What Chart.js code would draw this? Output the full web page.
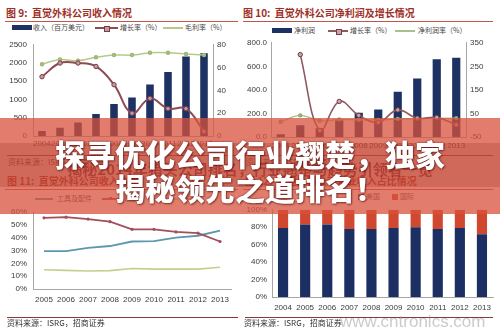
<!DOCTYPE html>
<html>
<head>
<meta charset="utf-8">
<script src="https://cdn.jsdelivr.net/npm/chart.js@4.4.1/dist/chart.umd.min.js"></script>
<style>
html,body{margin:0;padding:0;background:#fff;}
#page{position:relative;width:500px;height:333px;overflow:hidden;background:#fff;}
canvas{position:absolute;}
.t{position:absolute;white-space:nowrap;line-height:1;}
.title{font-family:"Noto Sans CJK SC";font-weight:700;font-size:10px;color:#9e2f27;}
.rule{position:absolute;height:1px;background:#c0554a;}
.rule2{position:absolute;height:1px;background:#8a3a33;}
.lg{font-family:"Noto Sans CJK SC";font-size:7px;color:#444;}
.src{font-family:"Noto Sans CJK SC";font-size:8px;color:#333;}
.sw{position:absolute;}
.band{position:absolute;left:0;width:500px;}
.big{position:absolute;left:0;width:500px;text-align:center;font-family:"Noto Sans CJK SC";font-weight:900;font-size:30px;color:#fff;line-height:1;text-shadow:0 0 2px rgba(70,0,0,.75),1px 1px 2px rgba(70,0,0,.5);}
.sub{position:absolute;left:0;width:500px;text-align:center;font-family:"Noto Sans CJK SC";font-weight:700;font-size:15px;color:rgba(150,30,22,.55);line-height:1;}
.wm{position:absolute;font-family:"Liberation Sans",Arial,sans-serif;font-size:17px;color:rgba(160,160,160,.55);line-height:1;}
</style>
</head>
<body>
<div id="page">
  <!-- panel titles -->
  <div class="t title" style="left:6px;top:8px;">图 9:&nbsp; 直觉外科公司收入情况</div>
  <div class="rule" style="left:5px;top:21px;width:233px;"></div>
  <div class="t title" style="left:243px;top:8px;">图 10:&nbsp; 直觉外科公司净利润及增长情况</div>
  <div class="rule" style="left:243px;top:21px;width:250px;"></div>

  <!-- legend, revenue panel -->
  <div class="sw" style="left:12px;top:25px;width:20px;height:5px;background:#1d3262;"></div>
  <div class="t lg" style="left:33px;top:24px;">收入（百万美元）</div>
  <div class="sw" style="left:95px;top:27px;width:23px;height:1.5px;background:#8e4a55;"></div>
  <div class="sw" style="left:104px;top:25.5px;width:4px;height:4px;background:#c49aa0;border:0.5px solid #7d3b45;"></div>
  <div class="t lg" style="left:120px;top:24px;">增长率（%）</div>
  <div class="sw" style="left:163px;top:27px;width:20px;height:1.5px;background:#b6c98d;"></div>
  <div class="t lg" style="left:185px;top:24px;">毛利率（%）</div>

  <!-- legend, net income panel -->
  <div class="sw" style="left:272px;top:28px;width:20px;height:5px;background:#1d3262;"></div>
  <div class="t lg" style="left:294px;top:27px;">净利润</div>
  <div class="sw" style="left:328px;top:30px;width:20px;height:1.5px;background:#8d5a62;"></div>
  <div class="sw" style="left:336px;top:28.5px;width:4px;height:4px;background:#c9a3a8;border:0.5px solid #7d3b45;"></div>
  <div class="t lg" style="left:350px;top:27px;">增长率（%）</div>
  <div class="sw" style="left:395px;top:30px;width:20px;height:1.5px;background:#a8c08c;"></div>
  <div class="t lg" style="left:418px;top:27px;">净利润率（%）</div>

  <canvas id="c1" width="245" height="118" style="left:0;top:34px;"></canvas>
  <canvas id="c2" width="250" height="118" style="left:245px;top:34px;"></canvas>

  <!-- source lines of the upper panels -->
  <div class="rule2" style="left:7px;top:155px;width:231px;"></div>
  <div class="t src" style="left:8px;top:158px;">资料来源：ISRG，招商证券</div>
  <div class="rule2" style="left:245px;top:155px;width:248px;"></div>
  <div class="t src" style="left:246px;top:158px;">资料来源：ISRG，招商证券</div>

  <!-- lower panel titles and legends -->
  <div class="t title" style="left:7px;top:176px;">图 11:&nbsp; 直觉外科公司收入构成</div>
  <div class="rule" style="left:5px;top:189px;width:233px;"></div>
  <div class="t title" style="left:245px;top:176px;">图 12:&nbsp; 直觉外科公司营业收入占比情况</div>
  <div class="rule" style="left:243px;top:189px;width:250px;"></div>

  <div class="sw" style="left:35px;top:198px;width:18px;height:1.5px;background:#5c97ad;"></div>
  <div class="t lg" style="left:57px;top:195px;">工具及配件</div>
  <div class="sw" style="left:102px;top:198px;width:18px;height:1.5px;background:#a34e5c;"></div>
  <div class="sw" style="left:109px;top:196.5px;width:3px;height:3px;background:#a34e5c;"></div>
  <div class="t lg" style="left:124px;top:195px;">系统</div>
  <div class="sw" style="left:160px;top:198px;width:18px;height:1.5px;background:#c2d08e;"></div>
  <div class="t lg" style="left:182px;top:195px;">服务</div>

  <div class="sw" style="left:358px;top:194px;width:6px;height:6px;background:#1b2f63;"></div>
  <div class="t lg" style="left:366px;top:193px;">美国</div>
  <div class="sw" style="left:392px;top:194px;width:6px;height:6px;background:#d04830;"></div>
  <div class="t lg" style="left:400px;top:193px;">国际</div>

  <canvas id="c3" width="245" height="112" style="left:0;top:200px;"></canvas>
  <canvas id="c4" width="255" height="115" style="left:245px;top:200px;"></canvas>

  <!-- source lines of the lower panels -->
  <div class="rule2" style="left:7px;top:317px;width:231px;"></div>
  <div class="t src" style="left:7px;top:319px;">资料来源：ISRG，招商证券</div>
  <div class="rule2" style="left:245px;top:317px;width:248px;"></div>
  <div class="t src" style="left:244px;top:319px;">资料来源：ISRG，招商证券</div>
  <div class="wm" style="left:340px;top:313px;">www.cntronics.com</div>

  <!-- headline band -->
  <div class="band" style="top:118px;height:96px;background:rgba(216,82,60,.75);"></div>
  <div class="band" style="top:143px;height:44px;background:rgba(150,35,25,.22);"></div>
  <div class="sub" style="top:161px;">揭秘2014年猎头公司排名，行业翘楚与趋势引领者一览</div>
  <div class="big" style="top:138px;">探寻优化公司行业翘楚，独家</div>
  <div class="big" style="top:172px;">揭秘领先之道排名！</div>
</div>

<script>
// Intuitive Surgical: revenue, margins and mix
const years = ['2004','2005','2006','2007','2008','2009','2010','2011','2012','2013'];
const revenue = [139, 227, 373, 601, 875, 1052, 1413, 1757, 2179, 2265];          // 百万美元
const revenueGrowth = [52, 64, 64, 61, 45, 20, 33, 24, 24, 4];                     // %
const grossMargin = [63, 67, 66, 69, 71, 71, 73, 73, 72, 71];                      // %

const netIncome = [24, 100, 75, 143, 205, 233, 385, 497, 660, 672];
const netIncomeGrowth = [null, 300, -22, 101, 42, 12, 65, 30, 33, 2];
const netMargin = [15, 42, 19, 24, 23, 22, 27, 28, 30, 30];

const mixYears = ['2005','2006','2007','2008','2009','2010','2011','2012','2013'];
const instrumentsShare = [29.5, 29.5, 32, 33.5, 37, 37.3, 40, 41.5, 45.5];
const systemsShare = [55.5, 56, 54.5, 52.5, 46.5, 46.5, 44.5, 43.5, 37];
const serviceShare = [15, 14.5, 14, 14.3, 16, 15.5, 15.5, 15.5, 17];

const usShare = [79, 83, 83, 78, 78, 79, 80, 78, 79, 72];
const intlShare = [21, 17, 17, 22, 22, 21, 20, 22, 21, 28];

const revTicks = [0, 500, 1000, 1500, 2000, 2500];
const pctTicks = [0, 20, 40, 60, 80];

const NAVY = '#1d3262';
const AXIS = '#a6a6a6';
const TICK_FONT = { family: '"Liberation Sans", Arial, sans-serif', size: 8 };
const TICK_COLOR = '#3a3a3a';

function base(pad) {
  return {
    responsive: false,
    maintainAspectRatio: false,
    animation: false,
    devicePixelRatio: 1,
    layout: { padding: pad },
    plugins: { legend: { display: false }, tooltip: { enabled: false } }
  };
}
function xAxis(h, pad, extra) {
  return Object.assign({
    grid: { display: false, drawTicks: false },
    border: { color: AXIS, width: 1 },
    ticks: { font: TICK_FONT, color: TICK_COLOR, padding: pad, maxRotation: 0, autoSkip: false },
    afterFit: s => { s.height = h; }
  }, extra || {});
}
function yAxis(pos, w, min, max, step, pad, fmt, extra) {
  return Object.assign({
    position: pos, min: min, max: max,
    grid: { display: false, drawTicks: false },
    border: { color: AXIS, width: 1 },
    ticks: { stepSize: step, font: TICK_FONT, color: TICK_COLOR, padding: pad, callback: fmt },
    afterFit: s => { s.width = w; }
  }, extra || {});
}

// 图 9: revenue bars with growth and gross margin
new Chart(document.getElementById('c1'), {
  data: {
    labels: years,
    datasets: [
      { type: 'line', data: revenueGrowth, yAxisID: 'y1', order: 0,
        borderColor: '#8e4a55', borderWidth: 2, tension: 0.4,
        pointRadius: 2.2, pointBackgroundColor: '#c49aa0', pointBorderColor: '#7d3b45', pointBorderWidth: 1 },
      { type: 'line', data: grossMargin, yAxisID: 'y1', order: 0,
        borderColor: '#b6c98d', borderWidth: 1.5, tension: 0.3,
        pointRadius: 1.5, pointBackgroundColor: '#b6c98d', pointBorderColor: '#9fb574' },
      { type: 'bar', data: revenue, yAxisID: 'y', order: 1,
        backgroundColor: NAVY, categoryPercentage: 1, barPercentage: 0.42 }
    ]
  },
  options: Object.assign(base({ top: 5, left: 0, right: 0, bottom: 0 }), {
    scales: {
      x: xAxis(16, 3),
      y: yAxis('left', 33, revTicks[0], revTicks[revTicks.length - 1], 500, 6, v => v),
      y1: yAxis('right', 32, pctTicks[0], pctTicks[pctTicks.length - 1], 20, 4, v => v)
    }
  })
});

// 图 10: net income bars with growth and net margin
new Chart(document.getElementById('c2'), {
  data: {
    labels: years,
    datasets: [
      { type: 'line', data: netIncomeGrowth, yAxisID: 'y1', order: 0,
        borderColor: '#8d5a62', borderWidth: 1.6, tension: 0.4,
        pointRadius: 2.2, pointBackgroundColor: '#c9a3a8', pointBorderColor: '#6e3a42', pointBorderWidth: 1 },
      { type: 'line', data: netMargin, yAxisID: 'y1', order: 0,
        borderColor: '#a8c08c', borderWidth: 1.4, tension: 0.4,
        pointRadius: 1.5, pointBackgroundColor: '#a8c08c', pointBorderColor: '#8ea872' },
      { type: 'bar', data: netIncome, yAxisID: 'y', order: 1,
        backgroundColor: NAVY, categoryPercentage: 1, barPercentage: 0.42 }
    ]
  },
  options: Object.assign(base({ top: 8, left: 0, right: 0, bottom: 0 }), {
    scales: {
      x: xAxis(15, 4),
      y: yAxis('left', 26, 0, 800, 100, 4, v => Number(v).toFixed(1)),
      y1: yAxis('right', 29, -50, 350, 50, 4, v => v)
    }
  })
});

// 图 11: revenue mix by product line
new Chart(document.getElementById('c3'), {
  type: 'line',
  data: {
    labels: mixYears,
    datasets: [
      { data: systemsShare, borderColor: '#a34e5c', borderWidth: 1.8, tension: 0,
        pointRadius: 1.6, pointBackgroundColor: '#a34e5c', pointBorderWidth: 0 },
      { data: instrumentsShare, borderColor: '#5c97ad', borderWidth: 1.8, tension: 0,
        pointRadius: 0 },
      { data: serviceShare, borderColor: '#c2d08e', borderWidth: 1.6, tension: 0,
        pointRadius: 0 }
    ]
  },
  options: Object.assign(base({ top: 12, left: 0, right: 14, bottom: 0 }), {
    scales: {
      x: xAxis(23, 6, { offset: true }),
      y: yAxis('left', 33, 0, 60, 10, 6, v => v + '%')
    }
  })
});

// 图 12: US vs international share of revenue
new Chart(document.getElementById('c4'), {
  type: 'bar',
  data: {
    labels: years,
    datasets: [
      { data: usShare, backgroundColor: '#1b2f63', categoryPercentage: 1, barPercentage: 0.46 },
      { data: intlShare, backgroundColor: '#d04830', categoryPercentage: 1, barPercentage: 0.46 }
    ]
  },
  options: Object.assign(base({ top: 7, left: 0, right: 7, bottom: 0 }), {
    scales: {
      x: xAxis(18, 6, { stacked: true }),
      y: yAxis('left', 27, 0, 100, 20, 5, v => v + '%', { stacked: true })
    }
  })
});
</script>
</body>
</html>
